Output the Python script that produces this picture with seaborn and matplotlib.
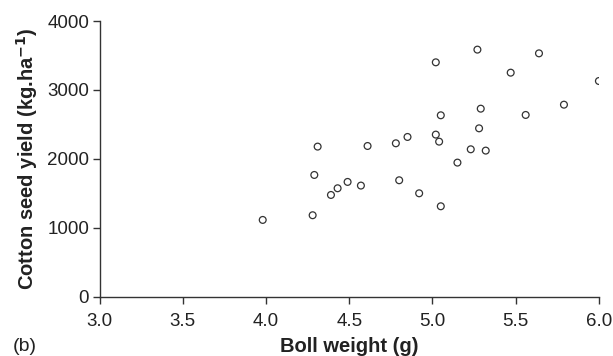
import pandas as pd
import seaborn as sns
import matplotlib.pyplot as plt

# boll weight (g) vs cotton seed yield (kg/ha)
boll_weight = [3.98, 4.28, 4.29, 4.31, 4.39, 4.43, 4.49, 4.57, 4.61, 4.78,
               4.80, 4.85, 4.92, 5.02, 5.02, 5.04, 5.05, 5.05, 5.15, 5.27,
               5.28, 5.23, 5.29, 5.32, 5.47, 5.56, 5.64, 5.79, 6.00]
seed_yield = [1116, 1184, 1768, 2179, 1478, 1575, 1667, 1614, 2188, 2227,
              1691, 2319, 1502, 3401, 2353, 2251, 2633, 1314, 1947, 3585,
              2444, 2140, 2729, 2121, 3251, 2638, 3531, 2787, 3130]

x_ticks = [3.0, 3.5, 4.0, 4.5, 5.0, 5.5, 6.0]
y_ticks = [0, 1000, 2000, 3000, 4000]

df = pd.DataFrame({"boll": boll_weight, "yield": seed_yield})

sns.set_style("ticks")
plt.rcParams["font.family"] = ["Liberation Sans", "DejaVu Sans"]

fig = plt.figure(figsize=(6.13, 3.56), dpi=100)
ax = fig.add_axes([0.1625, 0.166, 0.8145, 0.775])

sns.scatterplot(data=df, x="boll", y="yield", ax=ax, s=24, marker="o",
                facecolor="none", edgecolor="#333333", linewidth=0.9)

ax.set_xlim(3.0, 6.0)
ax.set_ylim(0, 4000)
ax.set_xticks(x_ticks)
ax.set_xticklabels([f"{t:.1f}" for t in x_ticks])
ax.set_yticks(y_ticks)
ax.tick_params(axis="both", labelsize=13.5, length=5, width=1,
               color="#333333", labelcolor="#222222")
ax.tick_params(axis="x", pad=6.5)
ax.tick_params(axis="y", pad=2.5)
for s in ["left", "bottom"]:
    ax.spines[s].set_linewidth(1)
    ax.spines[s].set_color("#333333")
sns.despine(ax=ax)

ax.set_xlabel("Boll weight (g)", fontsize=14.5, fontweight="bold", labelpad=5,
              color="#222222")
ax.set_ylabel("Cotton seed yield (kg.ha$^{\\mathbf{-1}}$)", fontsize=14.5,
              fontweight="bold", labelpad=5, color="#222222")
fig.text(0.02, 0.014, "(b)", fontsize=14, color="#222222")

fig.savefig("out.png", dpi=100)
